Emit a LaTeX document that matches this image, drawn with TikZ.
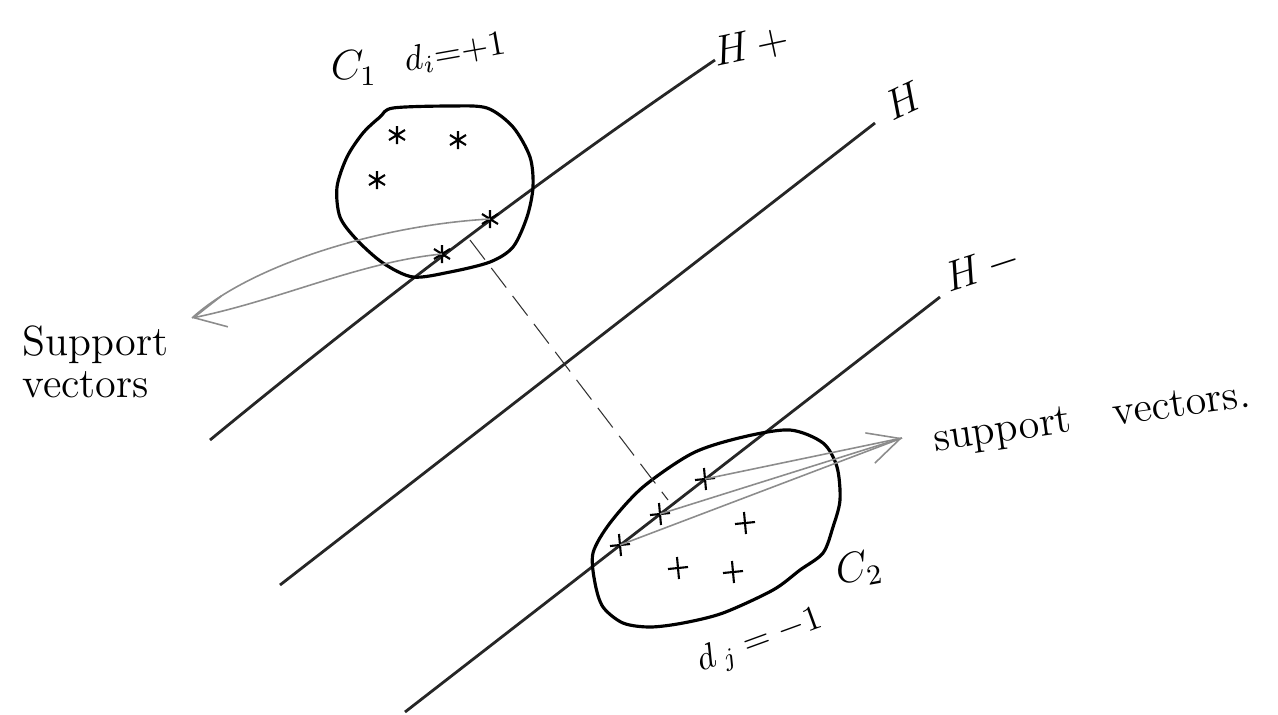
\documentclass[tikz,border=0pt]{standalone}
\usepackage{amsmath}
\usetikzlibrary{arrows.meta}

\tikzset{
  hyper/.style={line width=.8pt, black!85},
  blob/.style={line width=.9pt, black},
  svline/.style={line width=.45pt, black!45},
  svarrow/.style={svline, -{Straight Barb[length=9pt,width=9pt]}},
  gap/.style={line width=.3pt, black!80, dash pattern=on 7pt off 3pt},
  lbl/.style={font=\large},
  starmark/.pic={\draw[line width=.6pt] (0,-9)--(0,9) (-8,-5)--(8,5) (-8,5)--(8,-5);},
  plusmark/.pic={\draw[line width=.6pt] (-10,1)--(10,-1) (-1,-11)--(1,11);},
}

\begin{document}
\begin{tikzpicture}[x=0.01cm,y=-0.01cm]
  \useasboundingbox (0,0) rectangle (1278,714);

  % the three hyperplanes
  \draw[hyper] (210,440) .. controls (380,300) and (550,172) .. (715,60);
  \draw[hyper] (280,585) -- (875,123);
  \draw[hyper] (405,712) -- (940,297);
  \node[lbl,rotate=12] (hp) at (751,46) {$H\,{+}$};
  \node[lbl,rotate=25] (h) at (903,100) {$H$};
  \node[lbl,rotate=18] (hm) at (982,268) {$H\,{-}$};

  % class C1
  \draw[blob] plot[smooth cycle] coordinates {(393,108) (450,106) (487,108) (513,127)
    (530,157) (533,187) (527,217) (513,247) (490,262) (450,272) (413,277) (383,263)
    (357,240) (340,217) (337,187) (347,157) (363,133) (380,117)};
  \coordinate (a1) at (397,135); \coordinate (a2) at (458,140);
  \coordinate (a3) at (377,180); \coordinate (a4) at (490,219);
  \coordinate (a5) at (442,254);
  \foreach \p in {a1,a2,a3,a4,a5} \pic at (\p) {starmark};
  \node[lbl] (c1) at (354,68) {$C_1$};
  \node[rotate=10] (d1) at (455,53) {$d_i{=}{+}1$};

  % class C2
  \draw[blob] plot[smooth cycle] coordinates {(790,430) (823,443) (837,467) (840,500)
    (833,527) (823,553) (800,570) (773,590) (723,613) (683,623) (650,627) (623,623)
    (603,607) (595,583) (593,553) (610,523) (643,487) (693,453) (743,437)};
  \coordinate (b1) at (620,545); \coordinate (b2) at (660,514);
  \coordinate (b3) at (705,479); \coordinate (b4) at (745,523);
  \coordinate (b5) at (678,568); \coordinate (b6) at (733,572);
  \foreach \p in {b1,b2,b3,b4,b5,b6} \pic at (\p) {plusmark};
  \node[lbl,rotate=10] (c2) at (859,569) {$C_2$};
  \node[rotate=20] (d2) at (760,642) {$d\,{}_j = -1$};

  % margin
  \coordinate (g1) at (470,240); \coordinate (g2) at (668,500);
  \draw[gap] (g1) -- (g2);

  % support vectors of C1
  \coordinate (tl) at (192,318);
  \draw[svline] (a4) .. controls (380,225) and (250,265) .. (tl);
  \draw[svarrow] (a5) .. controls (360,262) and (280,300) .. (tl);
  \node[lbl,align=left,anchor=west] (svl) at (10,362) {Support\\[-2pt]vectors};

  % support vectors of C2
  \coordinate (tr) at (902,438);
  \draw[svline] (b3) -- (tr);
  \draw[svarrow] (b2) -- (tr);
  \draw[svline] (b1) -- (tr);
  \node[lbl,rotate=8] (svr) at (1092,420) {support\quad vectors.};
\end{tikzpicture}
\end{document}
